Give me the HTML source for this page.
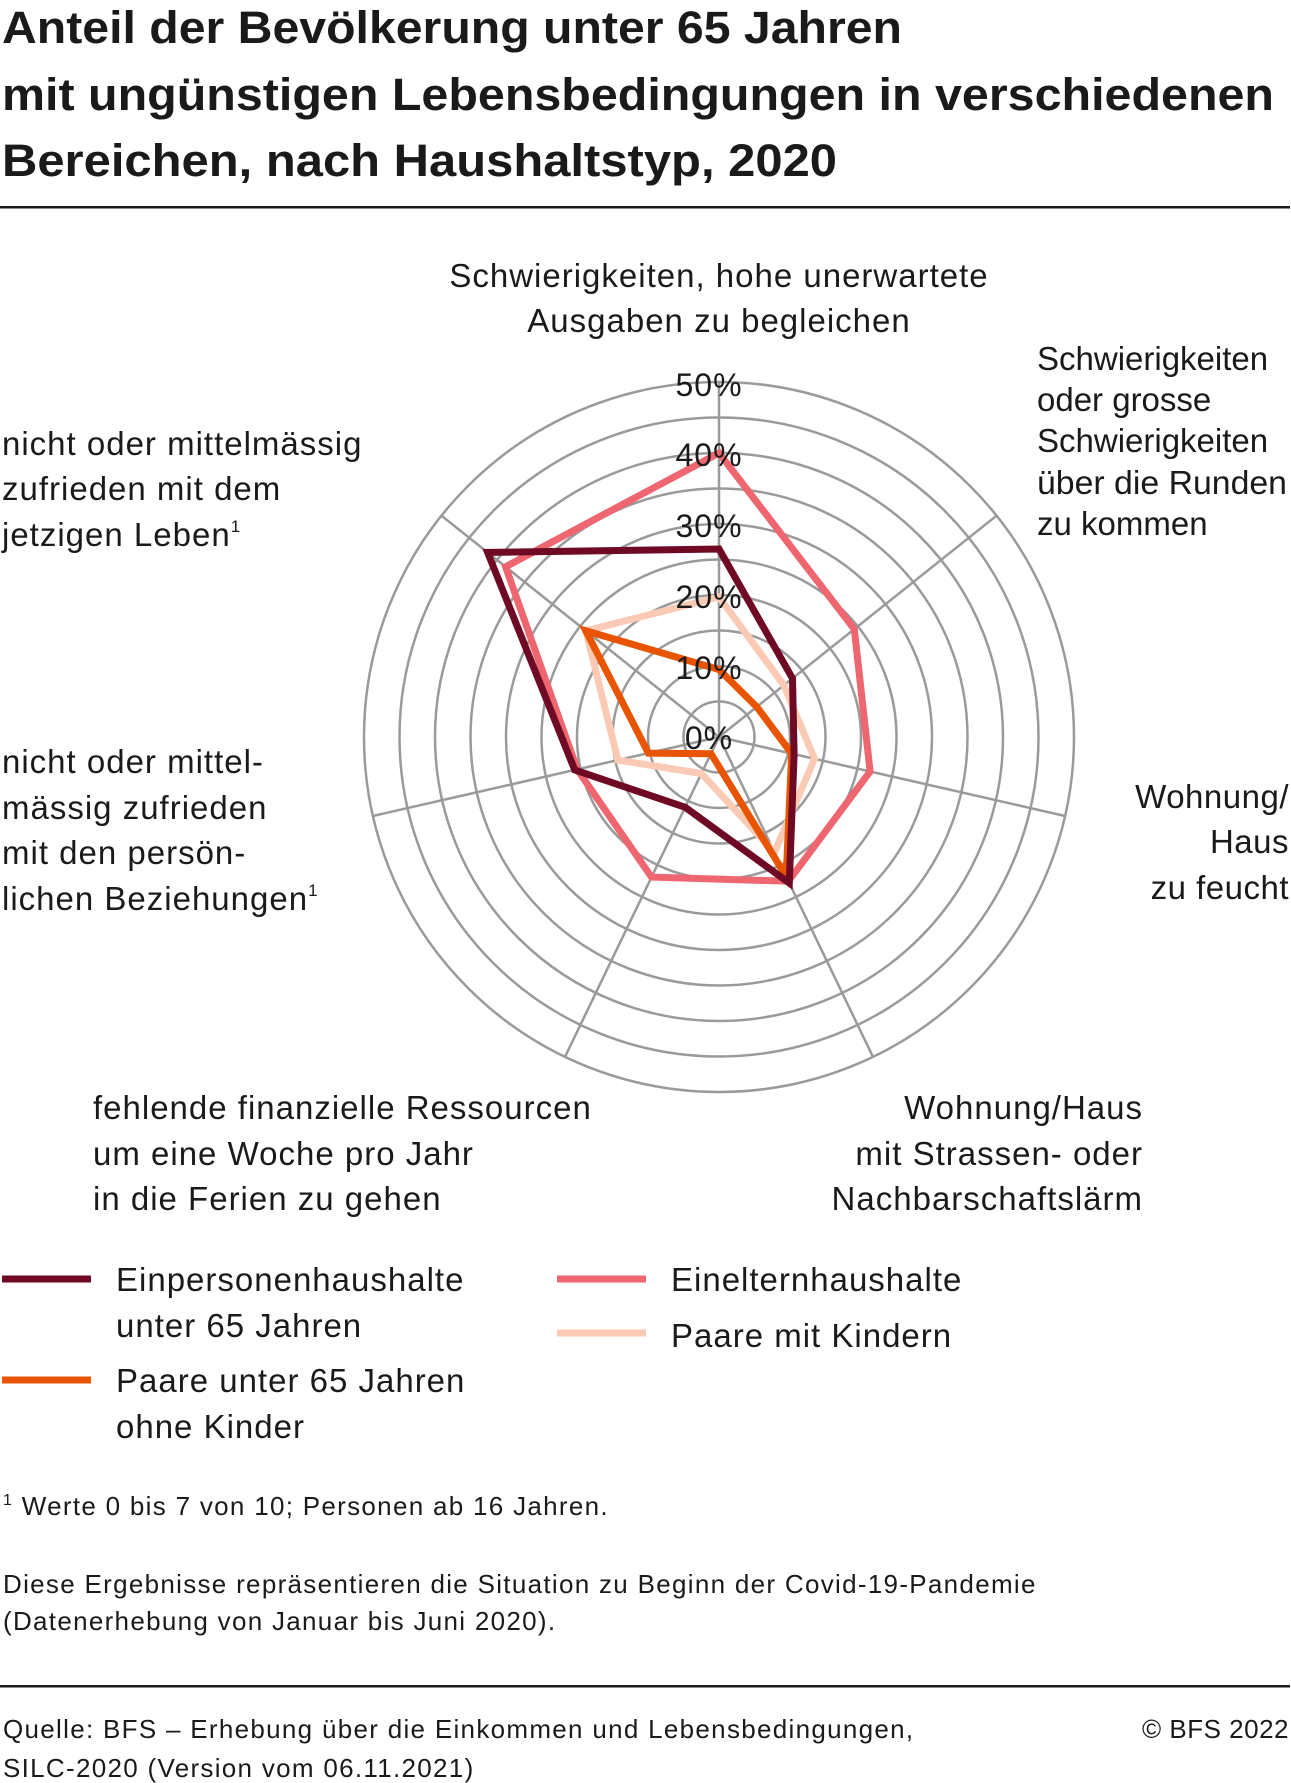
<!DOCTYPE html>
<html><head><meta charset="utf-8"><style>
html,body{margin:0;padding:0;background:#fff;}
svg{display:block;}
text{font-family:"Liberation Sans",sans-serif;fill:#1a1a1a;}
</style></head><body>
<svg width="1291" height="1783" viewBox="0 0 1291 1783" xmlns="http://www.w3.org/2000/svg">
<g font-weight="bold" font-size="45">
<text x="2" y="43" textLength="900" lengthAdjust="spacingAndGlyphs">Anteil der Bevölkerung unter 65 Jahren</text>
<text x="2" y="110" textLength="1272" lengthAdjust="spacingAndGlyphs">mit ungünstigen Lebensbedingungen in verschiedenen</text>
<text x="2" y="176" textLength="835" lengthAdjust="spacingAndGlyphs">Bereichen, nach Haushaltstyp, 2020</text>
</g>
<rect x="0" y="206" width="1290" height="2.5" fill="#1a1a1a"/>
<g fill="none" stroke="#9a9a9a" stroke-width="2.5">
<circle cx="719" cy="737" r="35.5"/><circle cx="719" cy="737" r="71"/><circle cx="719" cy="737" r="106.5"/><circle cx="719" cy="737" r="142"/><circle cx="719" cy="737" r="177.5"/><circle cx="719" cy="737" r="213"/><circle cx="719" cy="737" r="248.5"/><circle cx="719" cy="737" r="284"/><circle cx="719" cy="737" r="319.5"/><circle cx="719" cy="737" r="355"/>
<line x1="719" y1="737" x2="719" y2="382"/>
<line x1="719" y1="737" x2="996.5" y2="515.7"/>
<line x1="719" y1="737" x2="1065.1" y2="816"/>
<line x1="719" y1="737" x2="873" y2="1056.9"/>
<line x1="719" y1="737" x2="565" y2="1056.9"/>
<line x1="719" y1="737" x2="372.9" y2="816"/>
<line x1="719" y1="737" x2="441.5" y2="515.7"/>
</g>
<g fill="none" stroke-width="7" stroke-linejoin="miter">
<polygon stroke="#ee6670" points="719,453 854.3,629.1 870.1,771.5 788.4,881.2 651.5,877.1 577.2,769.4 505.6,566.8"/>
<polygon stroke="#fbcab5" points="719,597 783.9,685.2 814.5,758.8 774.5,852.3 701.4,773.5 617.9,760.1 585.8,630.8"/>
<polygon stroke="#e85400" points="719,669.5 756.8,706.9 791.7,753.6 786.2,876.5 711,753.7 648.4,753.1 585.8,630.8"/>
<polygon stroke="#6e0a24" points="719,549 792.5,678.4 794.1,754.1 789.3,883 685.2,807.3 574.7,769.9 487.6,552.4"/>
</g>
<g font-size="32" text-anchor="middle" fill="#222" letter-spacing="1">
<text x="709" y="396">50%</text><text x="709" y="466">40%</text><text x="709" y="537">30%</text><text x="709" y="608">20%</text><text x="709" y="679">10%</text><text x="709" y="749">0%</text>
</g>
<g font-size="33" letter-spacing="1">
<text x="719" y="287" text-anchor="middle">Schwierigkeiten, hohe unerwartete</text>
<text x="719" y="332" text-anchor="middle">Ausgaben zu begleichen</text>
<text x="1289" y="808" text-anchor="end" letter-spacing="0.5">Wohnung/</text>
<text x="1289" y="853" text-anchor="end" letter-spacing="0.5">Haus</text>
<text x="1289" y="899" text-anchor="end" letter-spacing="0.5">zu feucht</text>
<text x="1143" y="1119" text-anchor="end">Wohnung/Haus</text>
<text x="1143" y="1165" text-anchor="end">mit Strassen- oder</text>
<text x="1143" y="1210" text-anchor="end">Nachbarschaftslärm</text>
<text x="93" y="1119">fehlende finanzielle Ressourcen</text>
<text x="93" y="1165">um eine Woche pro Jahr</text>
<text x="93" y="1210">in die Ferien zu gehen</text>
<text x="2" y="773">nicht oder mittel-</text>
<text x="2" y="819">mässig zufrieden</text>
<text x="2" y="864">mit den persön-</text>
<text x="2" y="910">lichen Beziehungen<tspan font-size="17" dy="-14">1</tspan></text>
<text x="2" y="455">nicht oder mittelmässig</text>
<text x="2" y="500">zufrieden mit dem</text>
<text x="2" y="546">jetzigen Leben<tspan font-size="17" dy="-14">1</tspan></text>
<text x="116" y="1291">Einpersonenhaushalte</text>
<text x="116" y="1337">unter 65 Jahren</text>
<text x="116" y="1392">Paare unter 65 Jahren</text>
<text x="116" y="1438">ohne Kinder</text>
<text x="671" y="1291">Einelternhaushalte</text>
<text x="671" y="1347">Paare mit Kindern</text>
</g>
<g font-size="33" letter-spacing="0">
<text x="1037" y="370">Schwierigkeiten</text>
<text x="1037" y="411">oder grosse</text>
<text x="1037" y="452">Schwierigkeiten</text>
<text x="1037" y="494" textLength="250" lengthAdjust="spacingAndGlyphs">über die Runden</text>
<text x="1037" y="535">zu kommen</text>
</g>
<g stroke-width="7">
<line x1="2" y1="1279" x2="91" y2="1279" stroke="#6e0a24"/>
<line x1="2" y1="1380" x2="91" y2="1380" stroke="#e85400"/>
<line x1="557" y1="1279" x2="646" y2="1279" stroke="#ee6670"/>
<line x1="557" y1="1333" x2="646" y2="1333" stroke="#fbcab5"/>
</g>
<g font-size="26" fill="#222" letter-spacing="1.3">
<text x="3" y="1515"><tspan font-size="16" dy="-10">1</tspan><tspan dy="10"> Werte 0 bis 7 von 10; Personen ab 16 Jahren.</tspan></text>
<text x="3" y="1593">Diese Ergebnisse repräsentieren die Situation zu Beginn der Covid-19-Pandemie</text>
<text x="3" y="1630">(Datenerhebung von Januar bis Juni 2020).</text>
<text x="3" y="1738">Quelle: BFS – Erhebung über die Einkommen und Lebensbedingungen,</text>
<text x="3" y="1777">SILC-2020 (Version vom 06.11.2021)</text>
<text x="1289" y="1738" text-anchor="end" letter-spacing="0.5">© BFS 2022</text>
</g>
<rect x="0" y="1685" width="1290" height="2.5" fill="#1a1a1a"/>
</svg>
</body></html>
